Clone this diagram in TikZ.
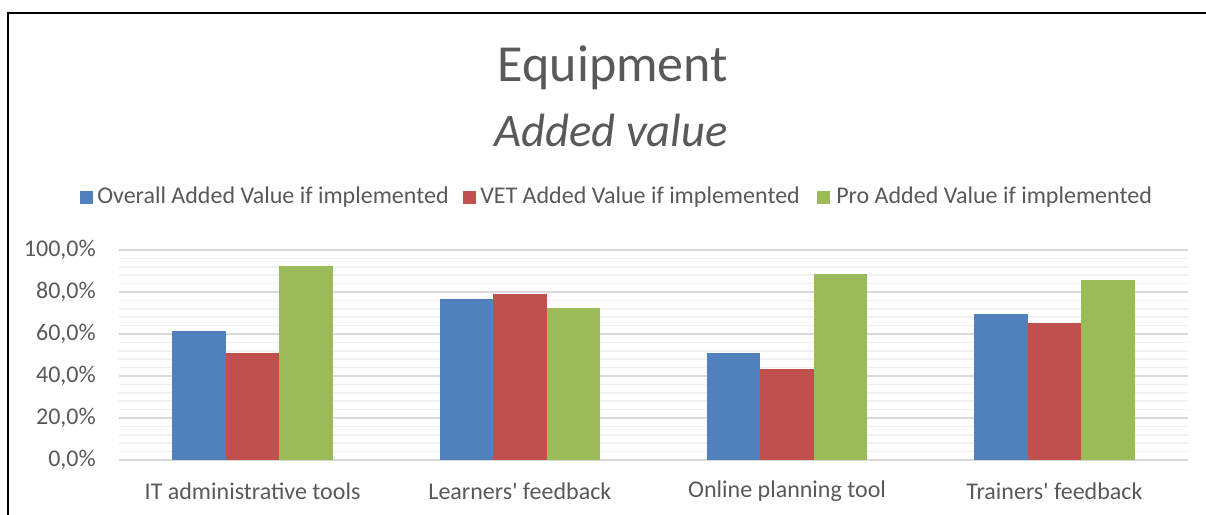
\documentclass[tikz,border=0pt]{standalone}
\usepackage{fontspec}
\setmainfont{Carlito}
\newfontfamily\plainfont{Carlito}
\definecolor{txt}{HTML}{595959}
\definecolor{cblue}{HTML}{4F81BD}
\definecolor{cred}{HTML}{C0504D}
\definecolor{cgreen}{HTML}{9BBB59}
\definecolor{gmaj}{HTML}{D9D9D9}
\definecolor{gmin}{HTML}{F0F0F0}
\tikzset{
  lbl/.style={text=txt, inner sep=0pt, font=\plainfont\fontsize{18}{20}\selectfont},
  ttl/.style={text=txt, inner sep=0pt, font=\fontsize{39}{44}\selectfont},
  minorgrid/.style={draw=gmin, line width=1.1pt},
  majorgrid/.style={draw=gmaj, line width=1.3pt}
}
\begin{document}
\begin{tikzpicture}[x=0.75pt,y=-0.75pt]
\useasboundingbox (0,0) rectangle (1206,514);
\fill[white] (0,0) rectangle (1206,514);
\draw[line width=1.5pt, line cap=rect] (8,514) -- (8,13) -- (1206,13);
% grid
\foreach \k in {1,...,24} \draw[minorgrid] (119,{460-8.4*\k}) -- (1188,{460-8.4*\k});
\foreach \k in {0,...,5} \draw[majorgrid] (119,{460-42*\k}) -- (1188,{460-42*\k});
% y labels
\node[lbl, anchor=east] (y0) at (96,460) {0,0\%};
\node[lbl, anchor=east] (y20) at (96,418) {20,0\%};
\node[lbl, anchor=east] (y40) at (96,376) {40,0\%};
\node[lbl, anchor=east] (y60) at (96,334) {60,0\%};
\node[lbl, anchor=east] (y80) at (96,292) {80,0\%};
\node[lbl, anchor=east] (y100) at (96,250) {100,0\%};
% bars
\foreach \i/\a/\b/\c in {0/61.4/51.1/92.5, 1/76.5/78.9/72.4, 2/50.8/43.2/88.6, 3/69.4/65.4/85.6}{
  \pgfmathsetmacro{\cx}{119+267.25*(\i+0.5)}
  \pgfmathsetmacro{\w}{53.45}
  \fill[cblue] ({\cx-1.5*\w},460) rectangle ({\cx-0.5*\w},{460-2.1*\a});
  \fill[cred] ({\cx-0.5*\w},460) rectangle ({\cx+0.5*\w},{460-2.1*\b});
  \fill[cgreen] ({\cx+0.5*\w},460) rectangle ({\cx+1.5*\w},{460-2.1*\c});
}
% category labels
\node[lbl] (c1) at (252.6,491) {IT administrative tools};
\node[lbl] (c2) at (519.9,491) {Learners' feedback};
\node[lbl] (c3) at (787.1,491) {Online planning tool};
\node[lbl] (c4) at (1054.4,491) {Trainers' feedback};
% legend
\fill[cblue] (80,191) rectangle (93,204);
\node[lbl, anchor=west] (l1) at (97,197.5) {Overall Added Value if implemented};
\fill[cred] (463,191) rectangle (476,204);
\node[lbl, anchor=west] (l2) at (480,197.5) {VET Added Value if implemented};
\fill[cgreen] (817,191) rectangle (830,204);
\node[lbl, anchor=west] (l3) at (836,197.5) {Pro Added Value if implemented};
% title
\node[ttl] (t1) at (613,68) {Equipment};
\node[ttl, font=\fontsize{35}{40}\selectfont\itshape] (t2) at (611,130) {Added value};
\end{tikzpicture}
\end{document}
